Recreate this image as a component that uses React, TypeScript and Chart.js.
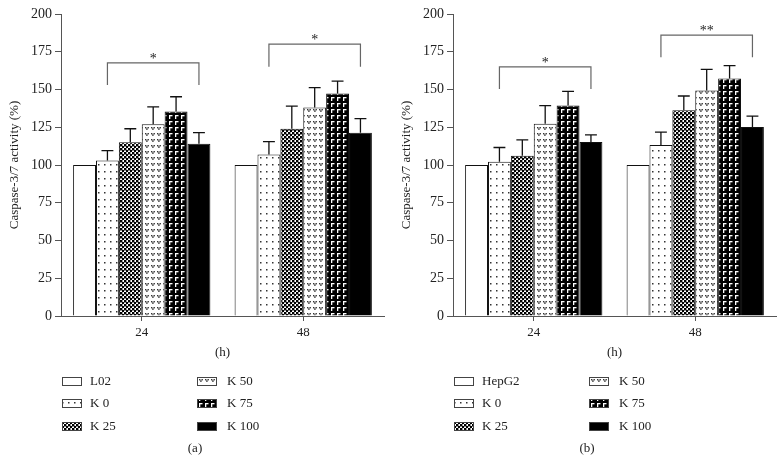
import React, { useEffect, useRef } from "react";
import { Chart, registerables } from "chart.js";
Chart.register(...registerables);

// ---------------- data ----------------
const categories = ["24", "48"];
const seriesA = ["L02", "K 0", "K 25", "K 50", "K 75", "K 100"];
const seriesB = ["HepG2", "K 0", "K 25", "K 50", "K 75", "K 100"];

// panel (a)
const aControl = [100, 100];
const aK0 = [103, 107];
const aK25 = [115, 124];
const aK50 = [127, 138];
const aK75 = [135.5, 147.3];
const aK100 = [114, 121.3];
const aControlErr = [0, 0];
const aK0Err = [6.5, 8.5];
const aK25Err = [9, 15];
const aK50Err = [11.5, 13.2];
const aK75Err = [9.7, 8.3];
const aK100Err = [7.5, 9.4];

// panel (b)
const bControl = [100, 100];
const bK0 = [102.2, 113.3];
const bK25 = [106.2, 136.2];
const bK50 = [127.4, 149.3];
const bK75 = [139.4, 157.3];
const bK100 = [115.3, 125.2];
const bControlErr = [0, 0];
const bK0Err = [9.4, 8.5];
const bK25Err = [10.4, 9.5];
const bK50Err = [11.9, 14];
const bK75Err = [9.4, 8.5];
const bK100Err = [4.6, 7.2];

// significance brackets: [category index, from series, to series, top value, end value, label]
const aBrackets: [number, number, number, number, number, string][] = [
  [0, 1, 5, 167.6, 153, "*"],
  [1, 1, 5, 180, 165, "*"],
];
const bBrackets: [number, number, number, number, number, string][] = [
  [0, 1, 5, 165, 150.3, "*"],
  [1, 1, 5, 186, 171.3, "**"],
];

const yTicksMax = 200;
const yStep = 25;

// ---------------- styles ----------------
const FONT = "'Liberation Serif', 'DejaVu Serif', serif";
const TEXT = "#222";
const AXIS = "#555";

function makePattern(kind: string): CanvasPattern | string {
  const c = document.createElement("canvas");
  const ctx = c.getContext("2d")!;
  if (kind === "white") return "#ffffff";
  if (kind === "black") return "#000000";
  if (kind === "dots") {
    c.width = 6; c.height = 7;
    ctx.fillStyle = "#fff"; ctx.fillRect(0, 0, 6, 7);
    ctx.fillStyle = "#333"; ctx.fillRect(2, 3, 1.5, 1.5);
  } else if (kind === "checker") {
    c.width = 4; c.height = 4;
    ctx.fillStyle = "#fff"; ctx.fillRect(0, 0, 4, 4);
    ctx.fillStyle = "#000";
    ctx.fillRect(0, 0, 2.4, 2.4);
    ctx.fillRect(2, 2, 2.4, 2.4);
    ctx.fillRect(0, 2, 0.4, 0.4);
  } else if (kind === "hearts") {
    c.width = 6; c.height = 6;
    ctx.fillStyle = "#fff"; ctx.fillRect(0, 0, 6, 6);
    ctx.fillStyle = "#333";
    ctx.fillRect(1, 1, 1.4, 1.4);
    ctx.fillRect(3.5, 1, 1.4, 1.4);
    ctx.fillRect(2.2, 2.3, 1.4, 1.6);
  } else if (kind === "corners") {
    c.width = 6; c.height = 6;
    ctx.fillStyle = "#000"; ctx.fillRect(0, 0, 6, 6);
    ctx.fillStyle = "#fff";
    ctx.fillRect(1, 1, 3.5, 1.3);
    ctx.fillRect(1, 1, 1.3, 4);
  }
  return ctx.createPattern(c, "repeat")!;
}

const patternKinds = ["white", "dots", "checker", "hearts", "corners", "black"];

type Bracket = [number, number, number, number, number, string];

interface PanelProps {
  names: string[];
  values: number[][];
  errors: number[][];
  brackets: Bracket[];
  caption: string;
}

function Panel({ names, values, errors, brackets, caption }: PanelProps) {
  const ref = useRef<HTMLCanvasElement | null>(null);
  useEffect(() => {
    if (!ref.current) return;
    const fills = patternKinds.map(makePattern);
    const datasets = names.map((n, i) => ({
      label: n,
      data: values[i],
      backgroundColor: fills[i] as any,
      borderColor: "#111",
      borderWidth: 1,
      borderSkipped: "bottom" as const,
    }));

    const extras = {
      id: "extras",
      afterDatasetsDraw(chart: any) {
        const ctx = chart.ctx;
        const y = chart.scales.y;
        ctx.save();
        // error bars
        ctx.strokeStyle = "#111";
        ctx.lineWidth = 1.3;
        errors.forEach((errs, di) => {
          const meta = chart.getDatasetMeta(di);
          errs.forEach((e, ci) => {
            if (!e) return;
            const bar = meta.data[ci];
            const v = values[di][ci];
            const yv = y.getPixelForValue(v);
            const ye = y.getPixelForValue(v + e);
            const half = bar.width * 0.26;
            ctx.beginPath();
            ctx.moveTo(bar.x, yv);
            ctx.lineTo(bar.x, ye);
            ctx.moveTo(bar.x - half, ye);
            ctx.lineTo(bar.x + half, ye);
            ctx.stroke();
          });
        });
        // brackets
        ctx.strokeStyle = "#666";
        ctx.lineWidth = 1.2;
        ctx.fillStyle = TEXT;
        ctx.font = `14px ${FONT}`;
        ctx.textAlign = "center";
        ctx.textBaseline = "alphabetic";
        brackets.forEach(([ci, from, to, top, end, label]) => {
          const x1 = chart.getDatasetMeta(from).data[ci].x;
          const x2 = chart.getDatasetMeta(to).data[ci].x;
          const yt = y.getPixelForValue(top);
          const ye = y.getPixelForValue(end);
          ctx.beginPath();
          ctx.moveTo(x1, ye);
          ctx.lineTo(x1, yt);
          ctx.lineTo(x2, yt);
          ctx.lineTo(x2, ye);
          ctx.stroke();
          ctx.fillText(label, (x1 + x2) / 2, yt);
        });
        ctx.restore();
      },
      afterDraw(chart: any) {
        const ctx = chart.ctx;
        ctx.save();
        ctx.font = `13px ${FONT}`;
        ctx.fillStyle = TEXT;
        ctx.textBaseline = "middle";
        ctx.textAlign = "left";
        const rows = [381, 403, 426];
        const cols = [[62, 90], [197, 227]];
        names.forEach((n, i) => {
          const col = cols[Math.floor(i / 3)];
          const ry = rows[i % 3];
          ctx.fillStyle = fills[i] as any;
          ctx.fillRect(col[0], ry - 4, 19, 8);
          ctx.strokeStyle = "#444";
          ctx.lineWidth = 1;
          ctx.strokeRect(col[0] + 0.5, ry - 4 + 0.5, 19, 8);
          ctx.fillStyle = TEXT;
          ctx.fillText(n, col[1], ry + 1);
        });
        ctx.textAlign = "center";
        ctx.fillText(caption, 195, 449);
        ctx.restore();
      },
    };

    const chart = new Chart(ref.current, {
      type: "bar",
      data: { labels: categories, datasets },
      plugins: [extras],
      options: {
        animation: false,
        responsive: false,
        events: [],
        layout: { padding: { left: 0, right: 8, top: 14, bottom: 109 } },
        datasets: { bar: { categoryPercentage: 0.85, barPercentage: 1 } },
        plugins: { legend: { display: false }, tooltip: { enabled: false } },
        scales: {
          x: {
            offset: true,
            grid: { display: true, drawOnChartArea: false, offset: false, tickLength: 5, color: AXIS },
            border: { color: AXIS, width: 1 },
            ticks: { font: { family: FONT, size: 13 }, color: TEXT, padding: 4 },
            title: { display: true, text: "(h)", font: { family: FONT, size: 13 }, color: TEXT, padding: { top: 2, bottom: 6 } },
            afterFit: (s: any) => { s.height = 50; },
          },
          y: {
            min: 0,
            max: yTicksMax,
            ticks: { stepSize: yStep, font: { family: FONT, size: 14 }, color: TEXT, padding: 3 },
            grid: { drawOnChartArea: false, tickLength: 6, color: AXIS },
            border: { color: AXIS, width: 1 },
            title: { display: true, text: "Caspase-3/7 activity (%)", font: { family: FONT, size: 13 }, color: TEXT, padding: { top: 7, bottom: 0 } },
            afterFit: (s: any) => { s.width = 61; },
          },
        },
      } as any,
    });
    return () => chart.destroy();
  }, []);
  return <canvas ref={ref} width={392} height={475} style={{ display: "block" }} />;
}

export default function App() {
  return (
    <div style={{ position: "absolute", left: 0, top: 0, width: 784, height: 475, display: "flex", background: "#fff" }}>
      <Panel
        names={seriesA}
        values={[aControl, aK0, aK25, aK50, aK75, aK100]}
        errors={[aControlErr, aK0Err, aK25Err, aK50Err, aK75Err, aK100Err]}
        brackets={aBrackets}
        caption="(a)"
      />
      <Panel
        names={seriesB}
        values={[bControl, bK0, bK25, bK50, bK75, bK100]}
        errors={[bControlErr, bK0Err, bK25Err, bK50Err, bK75Err, bK100Err]}
        brackets={bBrackets}
        caption="(b)"
      />
    </div>
  );
}
